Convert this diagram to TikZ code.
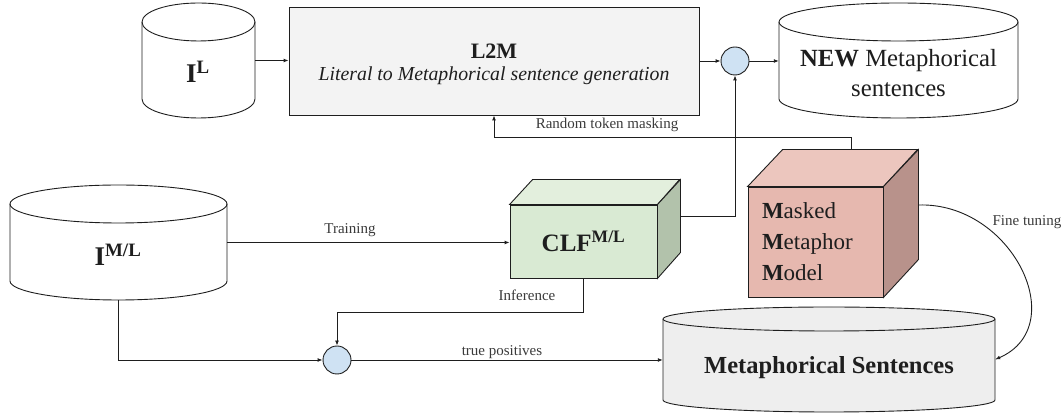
\documentclass[tikz,border=0pt]{standalone}
\usepackage{fontspec}
\setmainfont{Liberation Serif}
\usetikzlibrary{arrows.meta}

\definecolor{ink}{HTML}{1E1E1E}
\definecolor{lblgray}{HTML}{3A3A3A}
\definecolor{boxgray}{HTML}{F3F3F3}
\definecolor{cylgray}{HTML}{EEEEEE}
\definecolor{jblue}{HTML}{CFE2F3}
\definecolor{clffront}{HTML}{D9EAD3}
\definecolor{clftop}{HTML}{E3EFDD}
\definecolor{clfside}{HTML}{B2C2AB}
\definecolor{mmmfront}{HTML}{E6B8AF}
\definecolor{mmmtop}{HTML}{ECC6BE}
\definecolor{mmmside}{HTML}{B8928B}

\tikzset{
  x=1pt, y=1pt,
  outline/.style={draw=ink, line width=0.9pt},
  conn/.style={draw=ink, line width=0.9pt},
  arr/.style={conn, -{Latex[length=5pt,width=4pt]}},
  lbl/.style={text=lblgray, font=\fontsize{15}{17}\selectfont, inner sep=0},
  junction/.style={circle, outline, fill=jblue, minimum size=28pt, inner sep=0},
  cubefront/.style={rectangle, outline, inner sep=0},
  cyltext/.style={text=ink, align=center, inner sep=0},
}

% database cylinder: name, centre x, top y, bottom y, x radius, y radius, fill
\newcommand{\dbcyl}[7]{%
  \draw[outline, fill=#7] ({#2-#5},{#3-#6}) -- ({#2-#5},{#4+#6})
    arc[start angle=180, end angle=360, x radius=#5, y radius=#6]
    -- ({#2+#5},{#3-#6})
    arc[start angle=0, end angle=180, x radius=#5, y radius=#6] -- cycle;
  \draw[outline] ({#2-#5},{#3-#6})
    arc[start angle=180, end angle=360, x radius=#5, y radius=#6];
  \node[inner sep=0, minimum width={2*#5}, minimum height={#3-#4}]
    (#1) at (#2,{(#3+#4)/2}) {};
}

\begin{document}
\begin{tikzpicture}
\useasboundingbox (0,0) rectangle (1064,414);

% ---------- data stores ----------
\dbcyl{il}{198.5}{411}{296}{56.5}{19}{white}
\node[cyltext, font=\fontsize{27}{30}\selectfont\bfseries] (il-text) at (198,342) {I\textsuperscript{L}};

\dbcyl{new}{898.5}{411}{296}{119.5}{19}{white}
\node[cyltext, font=\fontsize{24.7}{30}\selectfont] (new-text) at (898.5,341)
  {\textbf{NEW} Metaphorical\\sentences};

\dbcyl{iml}{118.5}{229}{114}{108.5}{19}{white}
\node[cyltext, font=\fontsize{27}{30}\selectfont\bfseries] (iml-text) at (118,159) {I\textsuperscript{M/L}};

\dbcyl{ms}{829}{107}{2}{166}{12}{cylgray}
\node[cyltext, font=\fontsize{24.5}{28}\selectfont\bfseries] (ms-text) at (829,46) {Metaphorical Sentences};

% ---------- generator ----------
\node[rectangle, outline, fill=boxgray, minimum width=410pt, minimum height=108pt, inner sep=0]
  (l2m) at (494,353) {};
\node[cyltext, font=\fontsize{22}{26}\selectfont\bfseries] (l2m-title) at (494,363) {L2M};
\node[cyltext, font=\fontsize{19.8}{22}\selectfont\itshape] (l2m-sub) at (494,338)
  {Literal to Metaphorical sentence generation};

% ---------- junctions ----------
\node[junction] (j1) at (735,353) {};
\node[junction] (j2) at (337,54) {};

% ---------- classifier cube ----------
\node[cubefront, fill=clffront, minimum width=147pt, minimum height=73pt,
      font=\fontsize{25}{28}\selectfont\bfseries, text=ink]
  (clf) at (583.5,172.5) {CLF\textsuperscript{M/L}};
\draw[outline, fill=clftop] (clf.north west) -- ++(23,25) -- ++(147,0) -- (clf.north east) -- cycle;
\draw[outline, fill=clfside] (clf.north east) -- ++(23,25) -- ++(0,-73) -- (clf.south east) -- cycle;

% ---------- masked metaphor model cube ----------
\node[cubefront, fill=mmmfront, minimum width=135pt, minimum height=110pt,
      text width=107pt, align=left, text=ink, font=\fontsize{23}{31}\selectfont]
  (mmm) at (815.5,172) {\textbf{M}asked\\\textbf{M}etaphor\\\textbf{M}odel};
\draw[outline, fill=mmmtop] (mmm.north west) -- ++(35,37) -- ++(135,0) -- (mmm.north east) -- cycle;
\draw[outline, fill=mmmside] (mmm.north east) -- ++(35,37) -- ++(0,-110) -- (mmm.south east) -- cycle;

% ---------- connectors ----------
\draw[arr] (il.east) -- (il.east -| l2m.west);
\draw[arr] (l2m.east) -- (j1.west);
\draw[arr] (j1.east) -- (j1.east -| new.west);

\draw[arr] ([shift={(23,25)}]clf.east) -| (j1.south);

\draw[arr] ([shift={(35.5,37)}]mmm.north) -- ++(0,12) -| (l2m.south);
\node[lbl] (rtm) at (607,289) {Random token masking};

\draw[arr] (iml.east) -- (iml.east -| clf.west);
\node[lbl] (train) at (350,184) {Training};

\draw[arr] (clf.south) -- ++(0,-34) -| (j2.north);
\node[lbl] (infer) at (527,119) {Inference};

\draw[arr] (iml.south) |- (j2.west);
\draw[arr] (j2.east) -- (j2.east -| ms.west);
\node[lbl] (tp) at (502,62) {true positives};

\draw[arr] ([shift={(35,37)}]mmm.east) .. controls (1012,212) and (1072,88) .. (ms.east);
\node[lbl] (ft) at (1027,192) {Fine tuning};
\end{tikzpicture}
\end{document}
